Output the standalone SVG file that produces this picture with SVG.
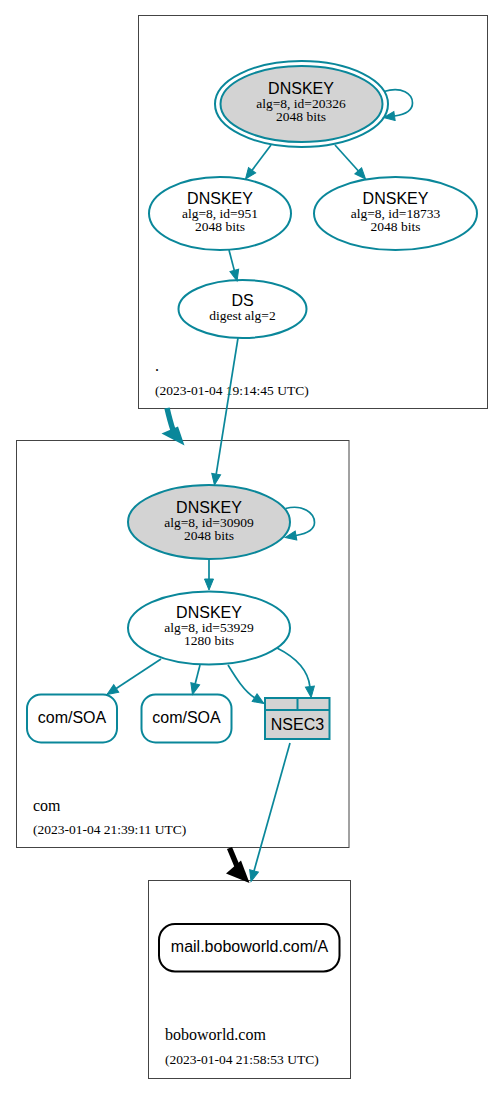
<svg xmlns="http://www.w3.org/2000/svg" width="504" height="1094" viewBox="0 0 504 1094">
<style>
.zone{fill:#fff;stroke:#444;stroke-width:1}
.k{fill:#fff;stroke:#0a879a;stroke-width:2}
.kg{fill:#d3d3d3;stroke:#0a879a;stroke-width:2}
.t1{font-family:"Liberation Sans",Arial,sans-serif;font-size:16px;text-anchor:middle;fill:#000}
.t2{font-family:"Liberation Serif","Times New Roman",serif;font-size:13.5px;text-anchor:middle;fill:#000}
.zl{font-family:"Liberation Serif","Times New Roman",serif;font-size:16px;fill:#000}
.zt{font-family:"Liberation Serif","Times New Roman",serif;font-size:13.5px;fill:#000}
.e{fill:none;stroke:#0a879a;stroke-width:1.7;marker-end:url(#ah)}
</style>
<defs>
<marker id="ah" markerUnits="userSpaceOnUse" markerWidth="12" markerHeight="10" refX="0" refY="4.5" orient="auto" overflow="visible">
<path d="M0,0 L11,4.5 L0,9 z" fill="#0a879a" stroke="#0a879a" stroke-width="1"/>
</marker>
</defs>
<rect width="504" height="1094" fill="#fff"/>
<g id="zone-root">
<rect class="zone" x="138.5" y="15.5" width="349" height="393"/>
<text class="zl" x="155" y="371">.</text>
<text class="zt" x="155" y="395">(2023-01-04 19:14:45 UTC)</text>
</g>
<g id="zone-com">
<rect class="zone" x="16.5" y="440.5" width="332.5" height="407"/>
<text class="zl" x="33" y="811">com</text>
<text class="zt" x="33" y="834">(2023-01-04 21:39:11 UTC)</text>
</g>
<g id="zone-boboworld">
<rect class="zone" x="148.5" y="880.5" width="202" height="198"/>
<text class="zl" x="165" y="1039.5">boboworld.com</text>
<text class="zt" x="165" y="1063.5">(2023-01-04 21:58:53 UTC)</text>
</g>
<g id="dnskey-20326">
<ellipse cx="301.5" cy="104" rx="86.5" ry="43" fill="none" stroke="#0a879a" stroke-width="2"/>
<ellipse class="kg" cx="301.5" cy="104" rx="81" ry="38"/>
<text class="t1" x="301" y="94">DNSKEY</text>
<text class="t2" x="301" y="108">alg=8, id=20326</text>
<text class="t2" x="301" y="121">2048 bits</text>
</g>
<g id="dnskey-951">
<ellipse class="k" cx="220" cy="213.5" rx="71" ry="36.5"/>
<text class="t1" x="220" y="204">DNSKEY</text>
<text class="t2" x="220" y="218">alg=8, id=951</text>
<text class="t2" x="220" y="231">2048 bits</text>
</g>
<g id="dnskey-18733">
<ellipse class="k" cx="395.5" cy="213.5" rx="81.5" ry="36.5"/>
<text class="t1" x="395.5" y="204">DNSKEY</text>
<text class="t2" x="395.5" y="218">alg=8, id=18733</text>
<text class="t2" x="395.5" y="231">2048 bits</text>
</g>
<g id="ds">
<ellipse class="k" cx="242.5" cy="309" rx="64" ry="29"/>
<text class="t1" x="242.5" y="306">DS</text>
<text class="t2" x="242.5" y="320">digest alg=2</text>
</g>
<g id="dnskey-30909">
<ellipse class="kg" cx="209" cy="522" rx="81" ry="37"/>
<text class="t1" x="209" y="513">DNSKEY</text>
<text class="t2" x="209" y="527">alg=8, id=30909</text>
<text class="t2" x="209" y="540">2048 bits</text>
</g>
<g id="dnskey-53929">
<ellipse class="k" cx="209" cy="628" rx="81" ry="36.5"/>
<text class="t1" x="209" y="618">DNSKEY</text>
<text class="t2" x="209" y="631.5">alg=8, id=53929</text>
<text class="t2" x="209" y="645">1280 bits</text>
</g>
<g id="soa-1">
<rect class="k" x="27" y="694.5" width="90" height="48" rx="14"/>
<text class="t1" x="72" y="723">com/SOA</text>
</g>
<g id="soa-2">
<rect class="k" x="141.5" y="694.5" width="90" height="48" rx="14"/>
<text class="t1" x="186.5" y="723">com/SOA</text>
</g>
<g id="nsec3">
<rect class="kg" x="265" y="698" width="64.5" height="41"/>
<line x1="265" y1="710" x2="329.5" y2="710" stroke="#0a879a" stroke-width="2"/>
<line x1="297.5" y1="698" x2="297.5" y2="710" stroke="#0a879a" stroke-width="2"/>
<text class="t1" x="297.5" y="729.5">NSEC3</text>
</g>
<g id="mail-a">
<rect x="159" y="924" width="180.5" height="47.5" rx="16" fill="#fff" stroke="#000" stroke-width="2"/>
<text class="t1" x="249.5" y="952">mail.boboworld.com/A</text>
</g>
<g id="connectors">
<path class="e" d="M384,91.5 C402,86 412.5,94 412.5,103 C412.5,111 405,114.5 394.5,116"/>
<path class="e" d="M271,145 L252.1,170.2"/>
<path class="e" d="M335,145 L358.2,170.8"/>
<path class="e" d="M229,250 L234.3,270.4"/>
<path class="e" d="M238,338 L216.2,474.1"/>
<path class="e" d="M285.5,508.5 C303,504 314.5,513 314.5,522.5 C314.5,530 307,533.5 296,535.5"/>
<path class="e" d="M209,559 L209,579"/>
<path class="e" d="M161,659 L116.2,688.5"/>
<path class="e" d="M200,665 L195.2,683.8"/>
<path class="e" d="M228,665 C236,678 244,691 254.6,697.7"/>
<path class="e" d="M277,648 C295,657 308,670 309.9,686.6"/>
<path class="e" d="M290,743 L254,870.9"/>
<path d="M167,408 Q170,421 173,430" fill="none" stroke="#0a879a" stroke-width="5.5"/>
<polygon points="161.5,433.5 184.5,445.5 178,426.5" fill="#0a879a"/>
<path d="M229.5,848 L237,866" fill="none" stroke="#000" stroke-width="5.5"/>
<polygon points="226,873.5 249.5,883 241,860.5" fill="#000"/>
</g>
</svg>
